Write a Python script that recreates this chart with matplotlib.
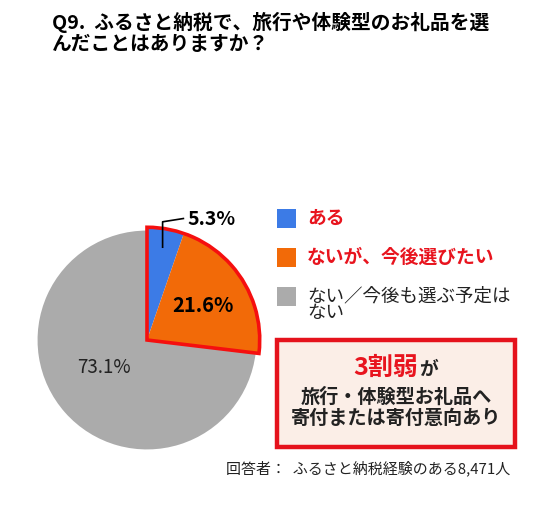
import numpy as np
import matplotlib.pyplot as plt
from matplotlib.patches import Rectangle, Wedge

plt.rcParams['font.family'] = ['Noto Sans CJK JP', 'DejaVu Sans']

labels = ['ある', 'ないが、今後選びたい', 'ない／今後も選ぶ予定は\nない']
values = [5.3, 21.6, 73.1]
colors = ['#3C7BE6', '#F26A08', '#ABABAB']
label_colors = ['#E8141E', '#E8141E', '#222222']
label_weights = ['bold', 'bold', 'normal']

title = 'Q9.  ふるさと納税で、旅行や体験型のお礼品を選\nんだことはありますか？'
note = '回答者：  ふるさと納税経験のある8,471人'

W, H = 546, 529
fig = plt.figure(figsize=(W / 100, H / 100), dpi=100)


def px(x, y):
    return x / W, 1 - y / H


# pie axes: centre (147, 340), radius 114 px
cx, cy, r = 147, 340, 114
half = 1.2 * r
ax = fig.add_axes([(cx - half) / W, (H - cy - half) / H, 2 * half / W, 2 * half / H])
ax.set_xlim(-1.2, 1.2)
ax.set_ylim(-1.2, 1.2)
ax.set_aspect('equal')
ax.axis('off')

wedges, _ = ax.pie(values, colors=colors, startangle=90, counterclock=False, radius=1.0)
for w in wedges[:2]:
    w.set_radius(1.03)

# red outline round the first two slices
share = sum(values[:2]) / sum(values) * 360
ax.add_patch(Wedge((0, 0), 1.03, 90 - share, 90, fill=False, edgecolor='#F50F0F', lw=2.6, zorder=5))

# labels
total = sum(values)
ang_blue = np.deg2rad(90 - values[0] / total * 180)
sx, sy = 0.86 * np.cos(ang_blue), 0.86 * np.sin(ang_blue)
ax.plot([sx, sx, sx + 0.19], [sy, 1.08, 1.11], color='black', lw=1.2, zorder=6)
ax.text(sx + 0.23, 1.10, f'{values[0]}%', ha='left', va='center', fontsize=14, fontweight='bold')

ang_or = np.deg2rad(90 - (values[0] + values[1] / 2) / total * 360)
ax.text(0.6 * np.cos(ang_or), 0.6 * np.sin(ang_or), f'{values[1]}%', ha='center', va='center',
        fontsize=14.5, fontweight='bold', zorder=6)
ax.text(-0.39, -0.25, f'{values[2]}%', ha='center', va='center', fontsize=13.5, color='#222222')

# title
fig.text(*px(52, 22), title.split('\n')[0], ha='left', va='center', fontsize=14.2, fontweight='bold')
fig.text(*px(52, 45), title.split('\n')[1], ha='left', va='center', fontsize=14.2, fontweight='bold')

# legend
rows = [218, 257, 296]
for i, (lab, c, tc, fw) in enumerate(zip(labels, colors, label_colors, label_weights)):
    y = rows[i]
    fig.patches.append(Rectangle(px(277, y + 9.5), 19 / W, 19 / H, transform=fig.transFigure,
                                 facecolor=c, edgecolor='none'))
    if '\n' in lab:
        l1, l2 = lab.split('\n')
        fig.text(*px(307, y), l1, ha='left', va='center', fontsize=13.3, color=tc, fontweight=fw)
        fig.text(*px(307, y + 17), l2, ha='left', va='center', fontsize=13.3, color=tc, fontweight=fw)
    else:
        fig.text(*px(307, y), lab, ha='left', va='center', fontsize=13.5, color=tc, fontweight=fw)

# callout box
fig.patches.append(Rectangle(px(277, 447), 238 / W, 107 / H, transform=fig.transFigure,
                             facecolor='#FBEEE7', edgecolor='#E5121C', lw=3.2))
fig.text(*px(418, 375), '3割弱', ha='right', va='baseline', fontsize=18, color='#E8141E', fontweight='bold')
fig.text(*px(419, 375), 'が', ha='left', va='baseline', fontsize=13.5, color='#222222', fontweight='bold')
fig.text(*px(396, 397), '旅行・体験型お礼品へ', ha='center', va='center', fontsize=13.8,
         color='#222222', fontweight='bold')
fig.text(*px(396, 418), '寄付または寄付意向あり', ha='center', va='center', fontsize=13.8,
         color='#222222', fontweight='bold')

fig.text(*px(510, 468), note, ha='right', va='center', fontsize=10.8, color='#222222')

fig.savefig('out.png', dpi=100, facecolor='white')
